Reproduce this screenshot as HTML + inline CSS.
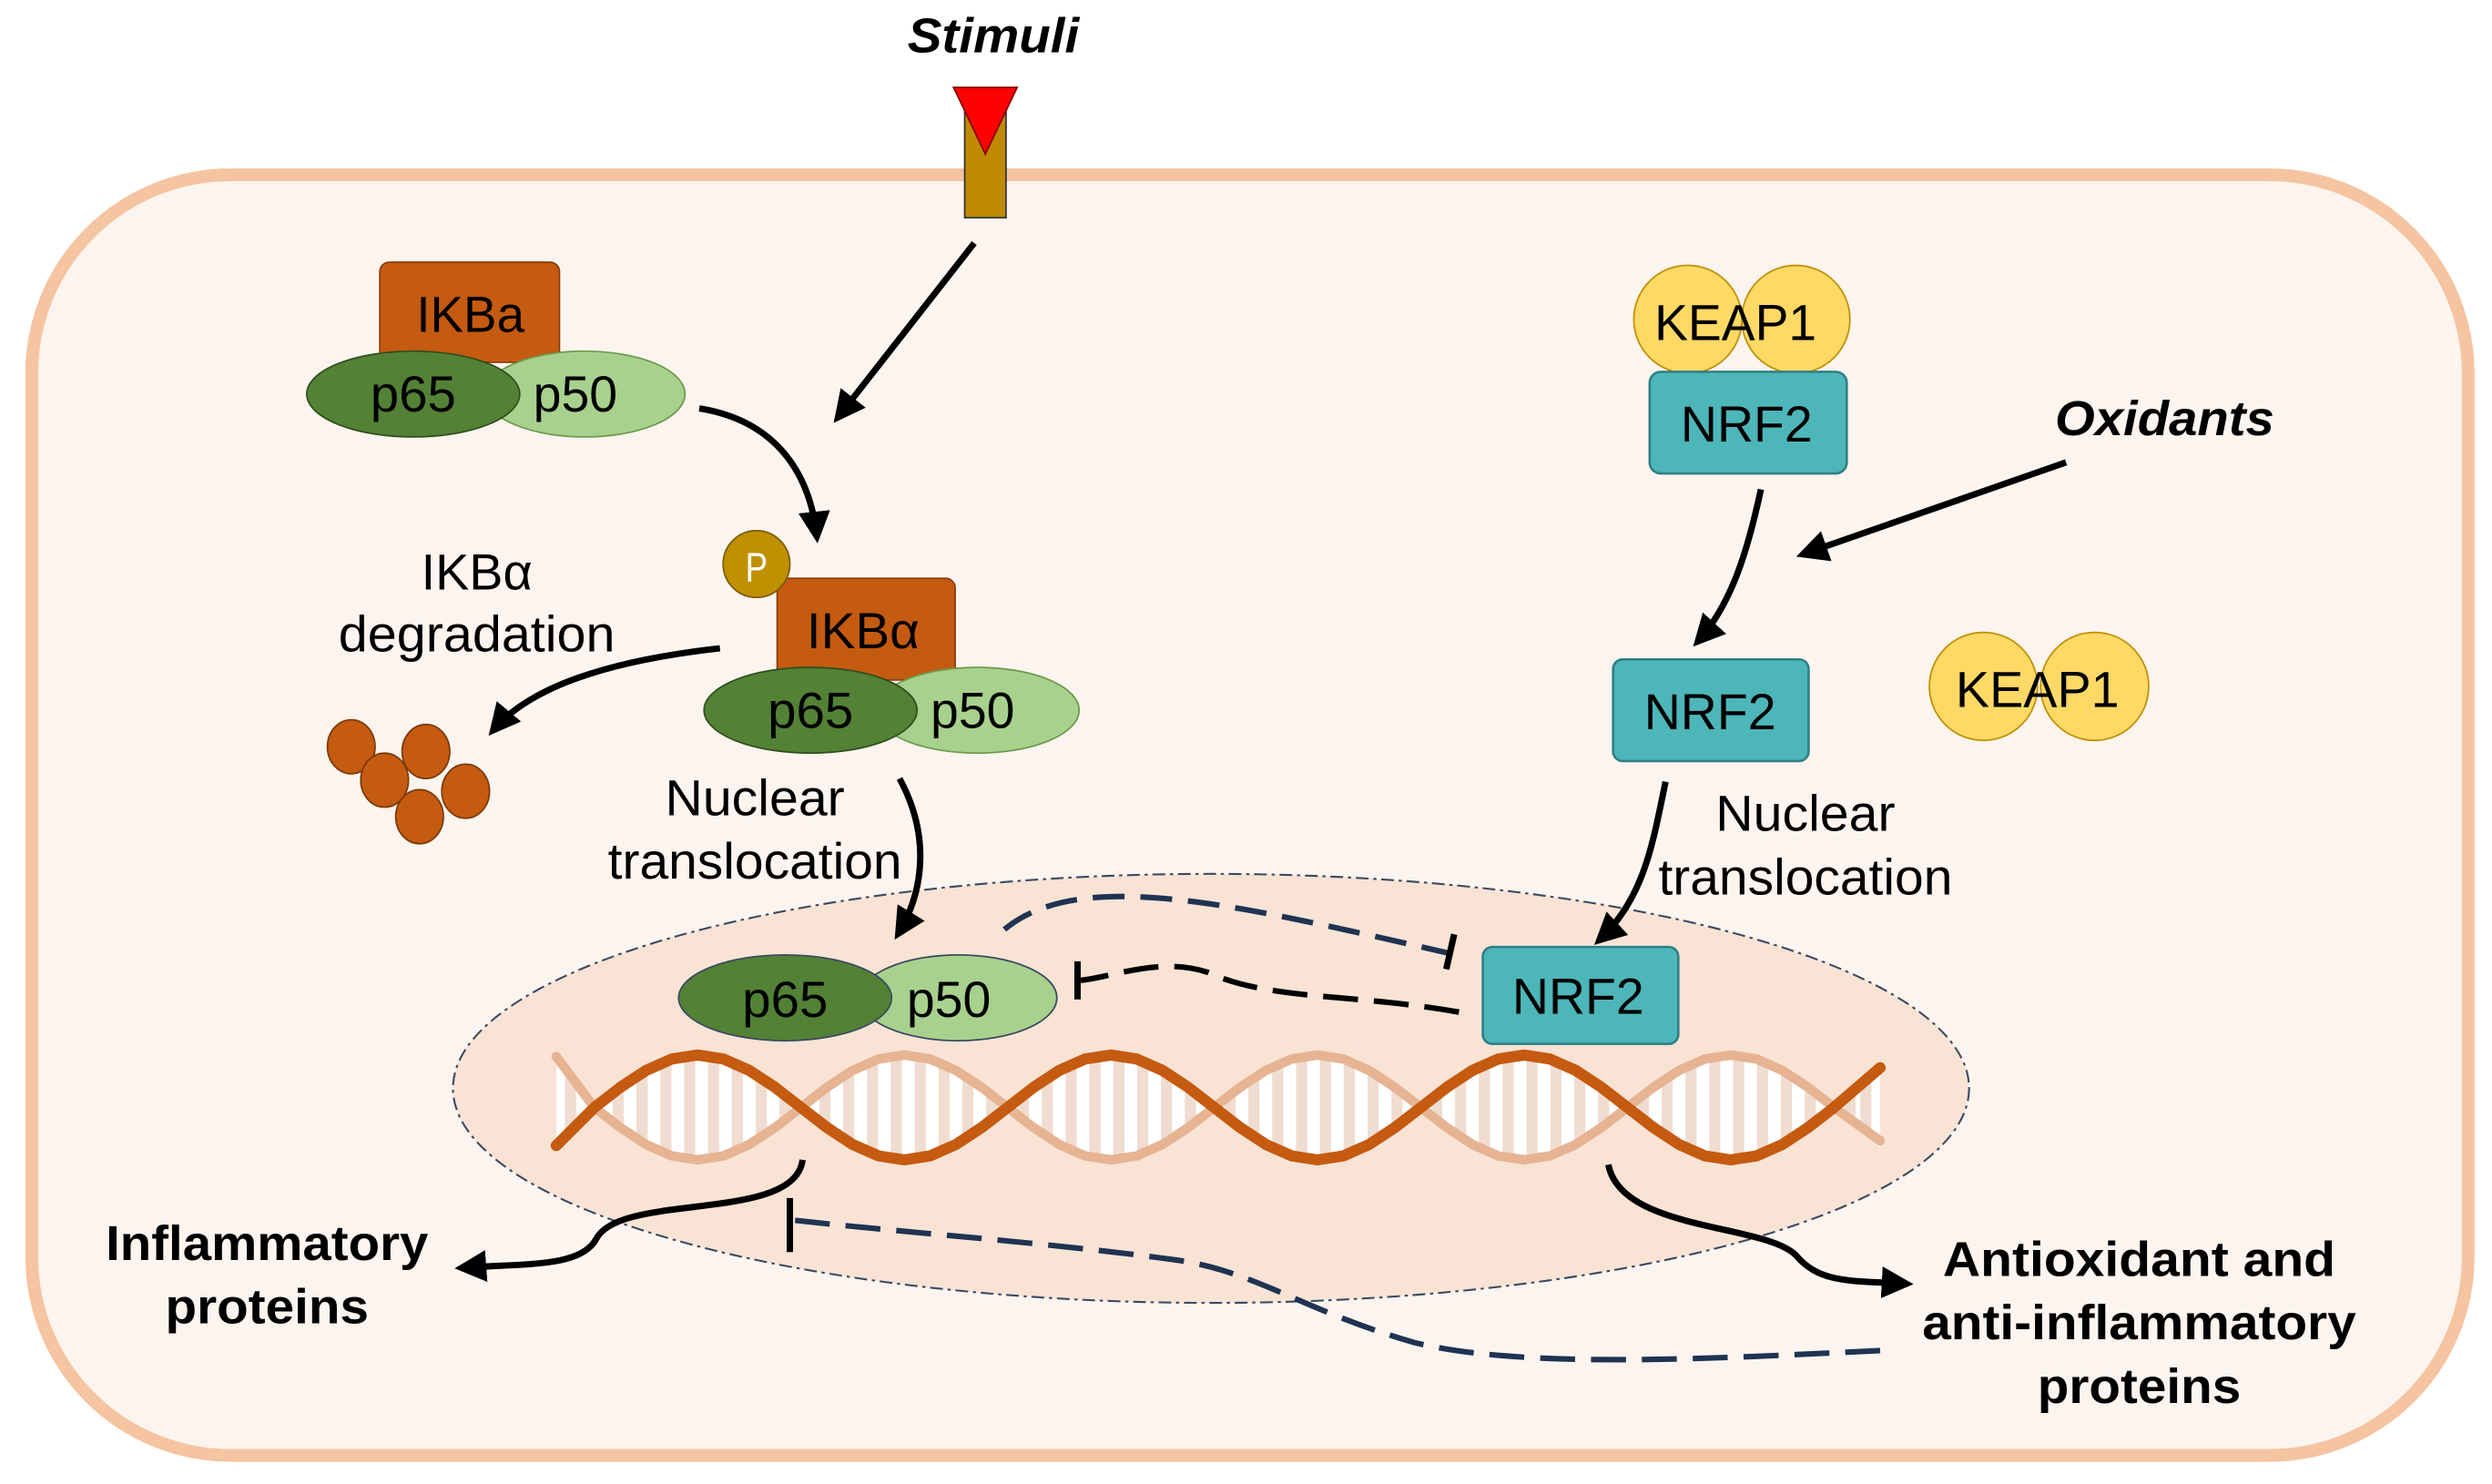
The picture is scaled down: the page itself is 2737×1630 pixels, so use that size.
<!DOCTYPE html>
<html><head><meta charset="utf-8"><style>html,body{margin:0;padding:0;background:#fff}svg{display:block}text{font-family:"Liberation Sans",Arial,sans-serif}</style></head>
<body>
<svg width="2737" height="1630" viewBox="0 0 1568 934" preserveAspectRatio="none" xmlns="http://www.w3.org/2000/svg">
<defs>
<marker id="ah" viewBox="0 0 10 10" refX="8" refY="5" markerWidth="5" markerHeight="5" orient="auto-start-reverse"><path d="M0,0 L10,5 L0,10 z" fill="#000"/></marker>
<clipPath id="dclip"><polygon points="350,721 374,697 390.25,684.4 406.5,673.7 422.75,666.5 439,664 455.25,666.5 471.5,673.7 487.75,684.4 504,697 520.25,709.6 536.5,720.3 552.75,727.5 569,730 585.25,727.5 601.5,720.3 617.75,709.6 634,697 650.25,684.4 666.5,673.7 682.75,666.5 699,664 715.25,666.5 731.5,673.7 747.75,684.4 764,697 780.25,709.6 796.5,720.3 812.75,727.5 829,730 845.25,727.5 861.5,720.3 877.75,709.6 894,697 910.25,684.4 926.5,673.7 942.75,666.5 959,664 975.25,666.5 991.5,673.7 1007.75,684.4 1024,697 1040.25,709.6 1056.5,720.3 1072.75,727.5 1089,730 1105.25,727.5 1121.5,720.3 1137.75,709.6 1154,697 1183,672 1183,722 1154,697 1137.75,684.4 1121.5,673.7 1105.25,666.5 1089,664 1072.75,666.5 1056.5,673.7 1040.25,684.4 1024,697 1007.75,709.6 991.5,720.3 975.25,727.5 959,730 942.75,727.5 926.5,720.3 910.25,709.6 894,697 877.75,684.4 861.5,673.7 845.25,666.5 829,664 812.75,666.5 796.5,673.7 780.25,684.4 764,697 747.75,709.6 731.5,720.3 715.25,727.5 699,730 682.75,727.5 666.5,720.3 650.25,709.6 634,697 617.75,684.4 601.5,673.7 585.25,666.5 569,664 552.75,666.5 536.5,673.7 520.25,684.4 504,697 487.75,709.6 471.5,720.3 455.25,727.5 439,730 422.75,727.5 406.5,720.3 390.25,709.6 374,697 350,665"/></clipPath>
</defs>
<rect width="1568" height="934" fill="#fff"/>
<rect x="20" y="110" width="1533" height="806" rx="125" fill="#fcf4ef" stroke="#f5c4a0" stroke-width="8"/>
<!-- receptor -->
<text x="625" y="33" font-size="31" font-weight="bold" font-style="italic" text-anchor="middle" textLength="108" lengthAdjust="spacingAndGlyphs">Stimuli</text>
<rect x="607" y="60" width="26" height="77" fill="#bf8a00" stroke="#333" stroke-width="1"/>
<polygon points="600,55 640,55 620,97" fill="#ff0000" stroke="#800" stroke-width="1"/>
<line x1="613" y1="153" x2="527" y2="263" stroke="#000" stroke-width="4" marker-end="url(#ah)"/>
<!-- complex 1 -->
<rect x="239" y="165" width="113" height="63" rx="6" fill="#c55a11" stroke="#8a3b08" stroke-width="1"/>
<text x="296" y="209" font-size="32" text-anchor="middle" textLength="68" lengthAdjust="spacingAndGlyphs">IKBa</text>
<ellipse cx="368" cy="248" rx="63" ry="27" fill="#a9d18e" stroke="#6c9b4c" stroke-width="1"/>
<ellipse cx="260" cy="248" rx="67" ry="27" fill="#538135" stroke="#2f4f1e" stroke-width="1"/>
<text x="260" y="259" font-size="32" text-anchor="middle" textLength="54" lengthAdjust="spacingAndGlyphs">p65</text>
<text x="362" y="259" font-size="32" text-anchor="middle" textLength="53" lengthAdjust="spacingAndGlyphs">p50</text>
<path d="M440,257 C490,265 510,300 514,338" fill="none" stroke="#000" stroke-width="4" marker-end="url(#ah)"/>
<!-- complex 2 -->
<rect x="489" y="364" width="112" height="64" rx="6" fill="#c55a11" stroke="#8a3b08" stroke-width="1"/>
<text x="543" y="408" font-size="32" text-anchor="middle" textLength="71" lengthAdjust="spacingAndGlyphs">IKBα</text>
<ellipse cx="615" cy="447" rx="64" ry="27" fill="#a9d18e" stroke="#6c9b4c" stroke-width="1"/>
<ellipse cx="510" cy="447" rx="67" ry="27" fill="#538135" stroke="#2f4f1e" stroke-width="1"/>
<text x="510" y="458" font-size="32" text-anchor="middle" textLength="54" lengthAdjust="spacingAndGlyphs">p65</text>
<text x="612" y="458" font-size="32" text-anchor="middle" textLength="53" lengthAdjust="spacingAndGlyphs">p50</text>
<circle cx="476" cy="355" r="21" fill="#bf9000" stroke="#7a5c00" stroke-width="1"/>
<text x="476" y="366" font-size="26" fill="#fff" text-anchor="middle" textLength="14" lengthAdjust="spacingAndGlyphs">P</text>
<text x="300" y="371" font-size="32" text-anchor="middle" textLength="70" lengthAdjust="spacingAndGlyphs">IKBα</text>
<text x="300" y="410" font-size="32" text-anchor="middle" textLength="174" lengthAdjust="spacingAndGlyphs">degradation</text>
<path d="M453,408 C390,415 335,430 310,460" fill="none" stroke="#000" stroke-width="4" marker-end="url(#ah)"/>
<g fill="#c55a11" stroke="#7a3a08" stroke-width="1">
<ellipse cx="221" cy="470" rx="15" ry="17"/><ellipse cx="268" cy="473" rx="15" ry="17"/>
<ellipse cx="242" cy="491" rx="15" ry="17"/><ellipse cx="293" cy="498" rx="15" ry="17"/>
<ellipse cx="264" cy="514" rx="15" ry="17"/></g>
<text x="475" y="513" font-size="32" text-anchor="middle" textLength="113" lengthAdjust="spacingAndGlyphs">Nuclear</text>
<text x="475" y="553" font-size="32" text-anchor="middle" textLength="185" lengthAdjust="spacingAndGlyphs">translocation</text>
<!-- nucleus -->
<ellipse cx="762" cy="685" rx="477" ry="135" fill="#f8e3d5" stroke="#3a4a60" stroke-width="1.2" stroke-dasharray="8,3,2,3"/>
<path d="M566,490 C585,525 582,560 565,588" fill="none" stroke="#000" stroke-width="4" marker-end="url(#ah)"/>
<!-- DNA -->
<rect x="340" y="655" width="850" height="85" fill="#fff" clip-path="url(#dclip)"/>
<g clip-path="url(#dclip)" stroke="#f0dcd0" stroke-width="7" stroke-linecap="round">
<path d="M359,655v85M389,655v85M404,655v85M419,655v85M434,655v85M449,655v85M464,655v85M479,655v85M494,655v85M519,655v85M534,655v85M549,655v85M564,655v85M579,655v85M594,655v85M609,655v85M624,655v85M644,655v85M659,655v85M674,655v85M689,655v85M704,655v85M719,655v85M734,655v85M749,655v85M774,655v85M789,655v85M804,655v85M819,655v85M834,655v85M849,655v85M864,655v85M879,655v85M904,655v85M919,655v85M934,655v85M949,655v85M964,655v85M979,655v85M994,655v85M1009,655v85M1034,655v85M1049,655v85M1064,655v85M1079,655v85M1094,655v85M1109,655v85M1124,655v85M1139,655v85M1164,655v85M1174,655v85"/>
</g>
<polyline points="350,665 374,697 390.25,709.6 406.5,720.3 422.75,727.5 439,730 455.25,727.5 471.5,720.3 487.75,709.6 504,697 520.25,684.4 536.5,673.7 552.75,666.5 569,664 585.25,666.5 601.5,673.7 617.75,684.4 634,697 650.25,709.6 666.5,720.3 682.75,727.5 699,730 715.25,727.5 731.5,720.3 747.75,709.6 764,697 780.25,684.4 796.5,673.7 812.75,666.5 829,664 845.25,666.5 861.5,673.7 877.75,684.4 894,697 910.25,709.6 926.5,720.3 942.75,727.5 959,730 975.25,727.5 991.5,720.3 1007.75,709.6 1024,697 1040.25,684.4 1056.5,673.7 1072.75,666.5 1089,664 1105.25,666.5 1121.5,673.7 1137.75,684.4 1154,697 1183,718" fill="none" stroke="#e6b493" stroke-width="6" stroke-linecap="round" stroke-linejoin="round"/>
<polyline points="350,721 374,697 390.25,684.4 406.5,673.7 422.75,666.5 439,664 455.25,666.5 471.5,673.7 487.75,684.4 504,697 520.25,709.6 536.5,720.3 552.75,727.5 569,730 585.25,727.5 601.5,720.3 617.75,709.6 634,697 650.25,684.4 666.5,673.7 682.75,666.5 699,664 715.25,666.5 731.5,673.7 747.75,684.4 764,697 780.25,709.6 796.5,720.3 812.75,727.5 829,730 845.25,727.5 861.5,720.3 877.75,709.6 894,697 910.25,684.4 926.5,673.7 942.75,666.5 959,664 975.25,666.5 991.5,673.7 1007.75,684.4 1024,697 1040.25,709.6 1056.5,720.3 1072.75,727.5 1089,730 1105.25,727.5 1121.5,720.3 1137.75,709.6 1154,697 1183,672" fill="none" stroke="#c55a11" stroke-width="7" stroke-linecap="round" stroke-linejoin="round"/>
<!-- nucleus proteins -->
<ellipse cx="603" cy="628" rx="62" ry="27" fill="#a9d18e" stroke="#3a4a60" stroke-width="1"/>
<ellipse cx="494" cy="628" rx="67" ry="27" fill="#538135" stroke="#3a4a60" stroke-width="1"/>
<text x="494" y="640" font-size="32" text-anchor="middle" textLength="54" lengthAdjust="spacingAndGlyphs">p65</text>
<text x="597" y="640" font-size="32" text-anchor="middle" textLength="53" lengthAdjust="spacingAndGlyphs">p50</text>
<rect x="933" y="596" width="123" height="61" rx="6" fill="#4db6b9" stroke="#2f7f86" stroke-width="1.5"/>
<text x="993" y="638" font-size="32" text-anchor="middle" textLength="83" lengthAdjust="spacingAndGlyphs">NRF2</text>
<path d="M632,585 C680,545 780,570 912,600" fill="none" stroke="#1f3352" stroke-width="3.5" stroke-dasharray="20,10"/>
<line x1="915" y1="588" x2="910" y2="610" stroke="#000" stroke-width="4"/>
<path d="M918,637 C850,625 800,630 760,612 C730,602 700,615 680,617" fill="none" stroke="#000" stroke-width="3.5" stroke-dasharray="22,10"/>
<line x1="678" y1="605" x2="678" y2="629" stroke="#000" stroke-width="4"/>
<!-- outputs -->
<path d="M505,730 C500,770 390,750 375,780 C365,798 330,795 290,798" fill="none" stroke="#000" stroke-width="4" marker-end="url(#ah)"/>
<text x="168" y="793" font-size="31" font-weight="bold" text-anchor="middle" textLength="203" lengthAdjust="spacingAndGlyphs">Inflammatory</text>
<text x="168" y="833" font-size="31" font-weight="bold" text-anchor="middle" textLength="128" lengthAdjust="spacingAndGlyphs">proteins</text>
<path d="M1012,733 C1020,775 1110,770 1130,790 C1145,808 1165,806 1200,808" fill="none" stroke="#000" stroke-width="4" marker-end="url(#ah)"/>
<text x="1346" y="803" font-size="31" font-weight="bold" text-anchor="middle" textLength="247" lengthAdjust="spacingAndGlyphs">Antioxidant and</text>
<text x="1346" y="843" font-size="31" font-weight="bold" text-anchor="middle" textLength="273" lengthAdjust="spacingAndGlyphs">anti-inflammatory</text>
<text x="1346" y="883" font-size="31" font-weight="bold" text-anchor="middle" textLength="128" lengthAdjust="spacingAndGlyphs">proteins</text>
<path d="M1183,850 C1080,855 960,862 890,845 C820,825 790,800 740,793 C660,782 560,775 500,768" fill="none" stroke="#1f3352" stroke-width="3.5" stroke-dasharray="22,10"/>
<line x1="497" y1="754" x2="497" y2="788" stroke="#000" stroke-width="4"/>
<!-- NRF2 side -->
<circle cx="1062" cy="201" r="34" fill="#ffd966" stroke="#bf9000" stroke-width="1"/>
<circle cx="1130" cy="201" r="34" fill="#ffd966" stroke="#bf9000" stroke-width="1"/>
<text x="1092" y="214" font-size="32" text-anchor="middle" textLength="102" lengthAdjust="spacingAndGlyphs">KEAP1</text>
<rect x="1038" y="234" width="124" height="64" rx="7" fill="#4db6b9" stroke="#2f7f86" stroke-width="1.5"/>
<text x="1099" y="278" font-size="32" text-anchor="middle" textLength="83" lengthAdjust="spacingAndGlyphs">NRF2</text>
<text x="1362" y="274" font-size="31" font-weight="bold" font-style="italic" text-anchor="middle" textLength="138" lengthAdjust="spacingAndGlyphs">Oxidants</text>
<line x1="1300" y1="291" x2="1134" y2="349" stroke="#000" stroke-width="4" marker-end="url(#ah)"/>
<path d="M1108,308 C1100,345 1090,380 1068,404" fill="none" stroke="#000" stroke-width="4" marker-end="url(#ah)"/>
<rect x="1015" y="415" width="123" height="64" rx="6" fill="#4db6b9" stroke="#2f7f86" stroke-width="1.5"/>
<text x="1076" y="459" font-size="32" text-anchor="middle" textLength="83" lengthAdjust="spacingAndGlyphs">NRF2</text>
<circle cx="1248" cy="432" r="34" fill="#ffd966" stroke="#bf9000" stroke-width="1"/>
<circle cx="1318" cy="432" r="34" fill="#ffd966" stroke="#bf9000" stroke-width="1"/>
<text x="1282" y="445" font-size="32" text-anchor="middle" textLength="103" lengthAdjust="spacingAndGlyphs">KEAP1</text>
<path d="M1048,492 C1040,530 1035,565 1006,592" fill="none" stroke="#000" stroke-width="4" marker-end="url(#ah)"/>
<text x="1136" y="523" font-size="32" text-anchor="middle" textLength="113" lengthAdjust="spacingAndGlyphs">Nuclear</text>
<text x="1136" y="563" font-size="32" text-anchor="middle" textLength="185" lengthAdjust="spacingAndGlyphs">translocation</text>
</svg>
</body></html>
